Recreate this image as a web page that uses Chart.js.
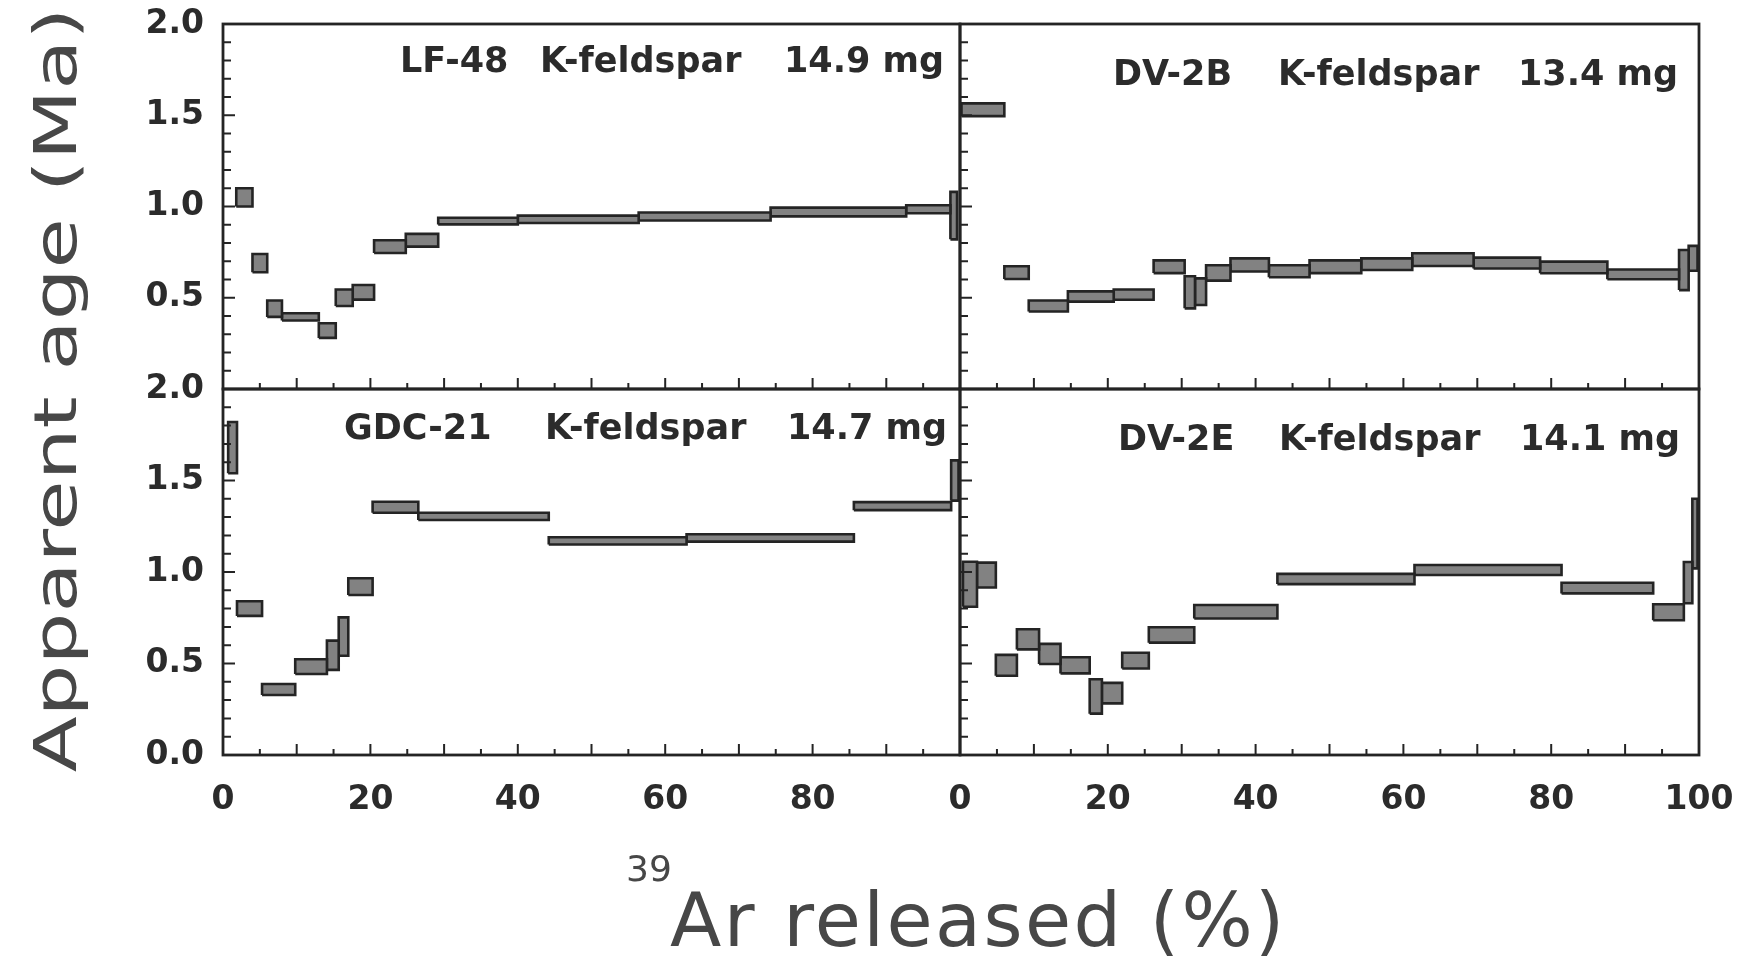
<!DOCTYPE html>
<html>
<head>
<meta charset="utf-8">
<title>K-feldspar 40Ar/39Ar age spectra</title>
<script src="https://cdn.jsdelivr.net/npm/chart.js@4.4.1/dist/chart.umd.min.js"></script>
<style>
  html, body { margin: 0; padding: 0; background: #ffffff; }
  #wrap { position: relative; width: 1750px; height: 960px; overflow: hidden; background: #ffffff; }
  #wrap canvas { position: absolute; left: 0; top: 0; }
  .axis-title { position: absolute; font-family: 'DejaVu Sans', sans-serif; color: #474747; white-space: nowrap; line-height: 1; }
  #ytitle { left: -344px; top: 360px; width: 800px; height: 60px; line-height: 60px; text-align: center;
            font-size: 58px; transform: rotate(-90deg) scaleX(1.41); transform-origin: 50% 50%; }
  #xsup { left: 626px; top: 851px; font-size: 36px; }
  #xtitle { left: 670px; top: 883px; font-size: 75px; letter-spacing: 2.4px; }
</style>
</head>
<body>
<div id="wrap">
  <canvas id="panelTL" width="1750" height="960"></canvas>
  <canvas id="panelTR" width="1750" height="960"></canvas>
  <canvas id="panelBL" width="1750" height="960"></canvas>
  <canvas id="panelBR" width="1750" height="960"></canvas>
  <div class="axis-title" id="ytitle">Apparent age (Ma)</div>
  <div class="axis-title" id="xsup">39</div>
  <div class="axis-title" id="xtitle">Ar released (%)</div>
</div>
<script>
// Axis ranges and tick labels
const xRange = [0, 100];
const yRange = [0, 2];
const xTickLabels = [0, 20, 40, 60, 80, 100];
const yTickLabels = [0.0, 0.5, 1.0, 1.5, 2.0];

// LF-48 K-feldspar, 14.9 mg: cumulative 39Ar (%) at start/end of each step, age (Ma) and 1-sigma (Ma)
const lf48Start = [1.8, 4.0, 6.0, 8.0, 13.0, 15.3, 17.6, 20.5, 24.8, 29.2, 40.0, 56.4, 74.3, 92.7, 98.7];
const lf48End   = [4.0, 6.0, 8.0, 13.0, 15.3, 17.6, 20.5, 24.8, 29.2, 40.0, 56.4, 74.3, 92.7, 98.7, 99.6];
const lf48Age   = [1.05, 0.69, 0.44, 0.395, 0.32, 0.50, 0.53, 0.78, 0.815, 0.92, 0.93, 0.945, 0.97, 0.985, 0.95];
const lf48Err   = [0.05, 0.05, 0.045, 0.02, 0.04, 0.045, 0.04, 0.035, 0.035, 0.018, 0.02, 0.022, 0.024, 0.022, 0.13];

// DV-2B K-feldspar, 13.4 mg
const dv2bStart = [0.2, 6.0, 9.3, 14.6, 20.8, 26.2, 30.4, 31.8, 33.3, 36.6, 41.8, 47.3, 54.3, 61.2, 69.5, 78.5, 87.6, 97.3, 98.6];
const dv2bEnd   = [6.0, 9.3, 14.6, 20.8, 26.2, 30.4, 31.8, 33.3, 36.6, 41.8, 47.3, 54.3, 61.2, 69.5, 78.5, 87.6, 97.3, 98.6, 99.8];
const dv2bAge   = [1.53, 0.638, 0.455, 0.507, 0.517, 0.67, 0.53, 0.533, 0.636, 0.68, 0.645, 0.67, 0.684, 0.709, 0.69, 0.666, 0.628, 0.652, 0.716];
const dv2bErr   = [0.035, 0.035, 0.03, 0.028, 0.028, 0.035, 0.088, 0.073, 0.042, 0.036, 0.033, 0.035, 0.032, 0.035, 0.03, 0.032, 0.027, 0.11, 0.068];

// GDC-21 K-feldspar, 14.7 mg
const gdc21Start = [0.7, 1.9, 5.3, 9.8, 14.1, 15.7, 17.0, 20.3, 26.5, 44.2, 62.9, 85.6, 98.8];
const gdc21End   = [1.9, 5.3, 9.8, 14.1, 15.7, 17.0, 20.3, 26.5, 44.2, 62.9, 85.6, 98.8, 99.8];
const gdc21Age   = [1.68, 0.80, 0.358, 0.483, 0.545, 0.647, 0.92, 1.354, 1.304, 1.17, 1.186, 1.36, 1.50];
const gdc21Err   = [0.14, 0.04, 0.03, 0.04, 0.08, 0.105, 0.046, 0.03, 0.02, 0.02, 0.02, 0.022, 0.11];

// DV-2E K-feldspar, 14.1 mg
const dv2eStart = [0.4, 2.3, 4.85, 7.7, 10.7, 13.6, 17.55, 19.2, 21.95, 25.55, 31.7, 42.95, 61.5, 81.4, 93.8, 97.95, 99.1];
const dv2eEnd   = [2.3, 4.85, 7.7, 10.7, 13.6, 17.55, 19.2, 21.95, 25.55, 31.7, 42.95, 61.5, 81.4, 93.8, 97.95, 99.1, 99.8];
const dv2eAge   = [0.933, 0.983, 0.49, 0.632, 0.552, 0.49, 0.32, 0.338, 0.516, 0.656, 0.783, 0.962, 1.011, 0.912, 0.78, 0.942, 1.21];
const dv2eErr   = [0.123, 0.068, 0.057, 0.055, 0.055, 0.044, 0.094, 0.056, 0.043, 0.042, 0.037, 0.028, 0.027, 0.029, 0.044, 0.113, 0.19];

// Panel captions
const lf48Caption  = ['LF-48', 'K-feldspar', '14.9 mg'];
const dv2bCaption  = ['DV-2B', 'K-feldspar', '13.4 mg'];
const gdc21Caption = ['GDC-21', 'K-feldspar', '14.7 mg'];
const dv2eCaption  = ['DV-2E', 'K-feldspar', '14.1 mg'];

const INK = '#242424';
const TEXT = '#2b2b2b';
const tickFont = { family: "'DejaVu Sans', sans-serif", size: 33, weight: 'bold' };
const Y_AXIS_WIDTH = 110;
const X_AXIS_HEIGHT = 80;

// Each heating step becomes a closed rectangle (age +/- error over its 39Ar interval)
function stepBoxes(start, end, age, err) {
  return start.map((s, i) => {
    const lo = age[i] - err[i];
    const hi = age[i] + err[i];
    return {
      data: [
        { x: s, y: lo }, { x: end[i], y: lo }, { x: end[i], y: hi }, { x: s, y: hi }, { x: s, y: lo }
      ],
      showLine: true,
      fill: 'shape',
      backgroundColor: '#828282',
      borderColor: INK,
      borderWidth: 2.6,
      borderJoinStyle: 'miter',
      pointRadius: 0,
      pointHoverRadius: 0,
      tension: 0
    };
  });
}

// Frame, inward tick marks and the sample caption
const panelDecor = {
  id: 'panelDecor',
  afterDraw(chart, args, opts) {
    const { ctx, chartArea: a, scales: { x, y } } = chart;
    ctx.save();
    ctx.strokeStyle = INK;
    ctx.lineCap = 'butt';
    ctx.lineWidth = 2;
    ctx.beginPath();
    for (let k = 1; k < 20; k++) {
      const px = x.getPixelForValue(k * 5);
      const len = (k % 2 === 0) ? 11 : 6;
      ctx.moveTo(px, a.bottom);
      ctx.lineTo(px, a.bottom - len);
    }
    for (let k = 1; k < 20; k++) {
      const py = y.getPixelForValue(k / 10);
      const len = (k % 5 === 0) ? 12 : 8;
      ctx.moveTo(a.left, py);
      ctx.lineTo(a.left + len, py);
    }
    ctx.stroke();
    ctx.lineWidth = 2.8;
    ctx.strokeRect(a.left, a.top, a.right - a.left, a.bottom - a.top);

    ctx.fillStyle = TEXT;
    ctx.font = "bold 35px 'DejaVu Sans', sans-serif";
    ctx.textAlign = 'left';
    ctx.textBaseline = 'alphabetic';
    const base = a.top + opts.baseline;
    opts.caption.forEach((word, i) => {
      ctx.fillText(word, a.right - opts.offsets[i], base);
    });
    ctx.restore();
  }
};

function noPadding(s) {
  s.paddingTop = 0; s.paddingBottom = 0; s.paddingLeft = 0; s.paddingRight = 0;
}

function makePanel(id, datasets, box, cfg) {
  return new Chart(document.getElementById(id), {
    type: 'scatter',
    data: { datasets },
    options: {
      responsive: false,
      animation: false,
      devicePixelRatio: 1,
      events: [],
      layout: {
        padding: {
          left: box.left - Y_AXIS_WIDTH,
          right: 1750 - box.right,
          top: box.top,
          bottom: 960 - box.bottom - X_AXIS_HEIGHT
        }
      },
      plugins: {
        legend: { display: false },
        tooltip: { enabled: false },
        panelDecor: { caption: cfg.caption, offsets: cfg.offsets, baseline: cfg.baseline }
      },
      scales: {
        x: {
          type: 'linear',
          min: xRange[0],
          max: xRange[1],
          grid: { display: false, drawTicks: false },
          border: { display: false },
          afterFit: (s) => { s.height = X_AXIS_HEIGHT; noPadding(s); },
          afterBuildTicks: (s) => { s.ticks = xTickLabels.map(v => ({ value: v })); },
          ticks: {
            display: cfg.xLabels,
            padding: 26,
            autoSkip: false,
            maxRotation: 0,
            font: tickFont,
            color: TEXT,
            callback: (v) => (cfg.skipLastX && v === xRange[1]) ? '' : String(v)
          }
        },
        y: {
          type: 'linear',
          min: yRange[0],
          max: yRange[1],
          grid: { display: false, drawTicks: false },
          border: { display: false },
          afterFit: (s) => { s.width = Y_AXIS_WIDTH; noPadding(s); },
          afterBuildTicks: (s) => { s.ticks = yTickLabels.map(v => ({ value: v })); },
          ticks: {
            display: cfg.yLabels,
            padding: 19,
            autoSkip: false,
            font: tickFont,
            color: TEXT,
            callback: (v) => (cfg.skipFirstY && v === yRange[0]) ? '' : v.toFixed(1)
          }
        }
      }
    },
    plugins: [panelDecor]
  });
}

const leftCol = { left: 223, right: 960 };
const rightCol = { left: 960, right: 1699 };
const topRow = { top: 24, bottom: 389 };
const bottomRow = { top: 389, bottom: 755 };

makePanel('panelTL', stepBoxes(lf48Start, lf48End, lf48Age, lf48Err),
  { ...leftCol, ...topRow },
  { caption: lf48Caption, offsets: [560, 420, 176], baseline: 48, xLabels: false, yLabels: true, skipFirstY: true });

makePanel('panelTR', stepBoxes(dv2bStart, dv2bEnd, dv2bAge, dv2bErr),
  { ...rightCol, ...topRow },
  { caption: dv2bCaption, offsets: [586, 421, 181], baseline: 61, xLabels: false, yLabels: false });

makePanel('panelBL', stepBoxes(gdc21Start, gdc21End, gdc21Age, gdc21Err),
  { ...leftCol, ...bottomRow },
  { caption: gdc21Caption, offsets: [616, 415, 173], baseline: 50, xLabels: true, yLabels: true, skipLastX: true });

makePanel('panelBR', stepBoxes(dv2eStart, dv2eEnd, dv2eAge, dv2eErr),
  { ...rightCol, ...bottomRow },
  { caption: dv2eCaption, offsets: [581, 420, 179], baseline: 61, xLabels: true, yLabels: false });
</script>
</body>
</html>
